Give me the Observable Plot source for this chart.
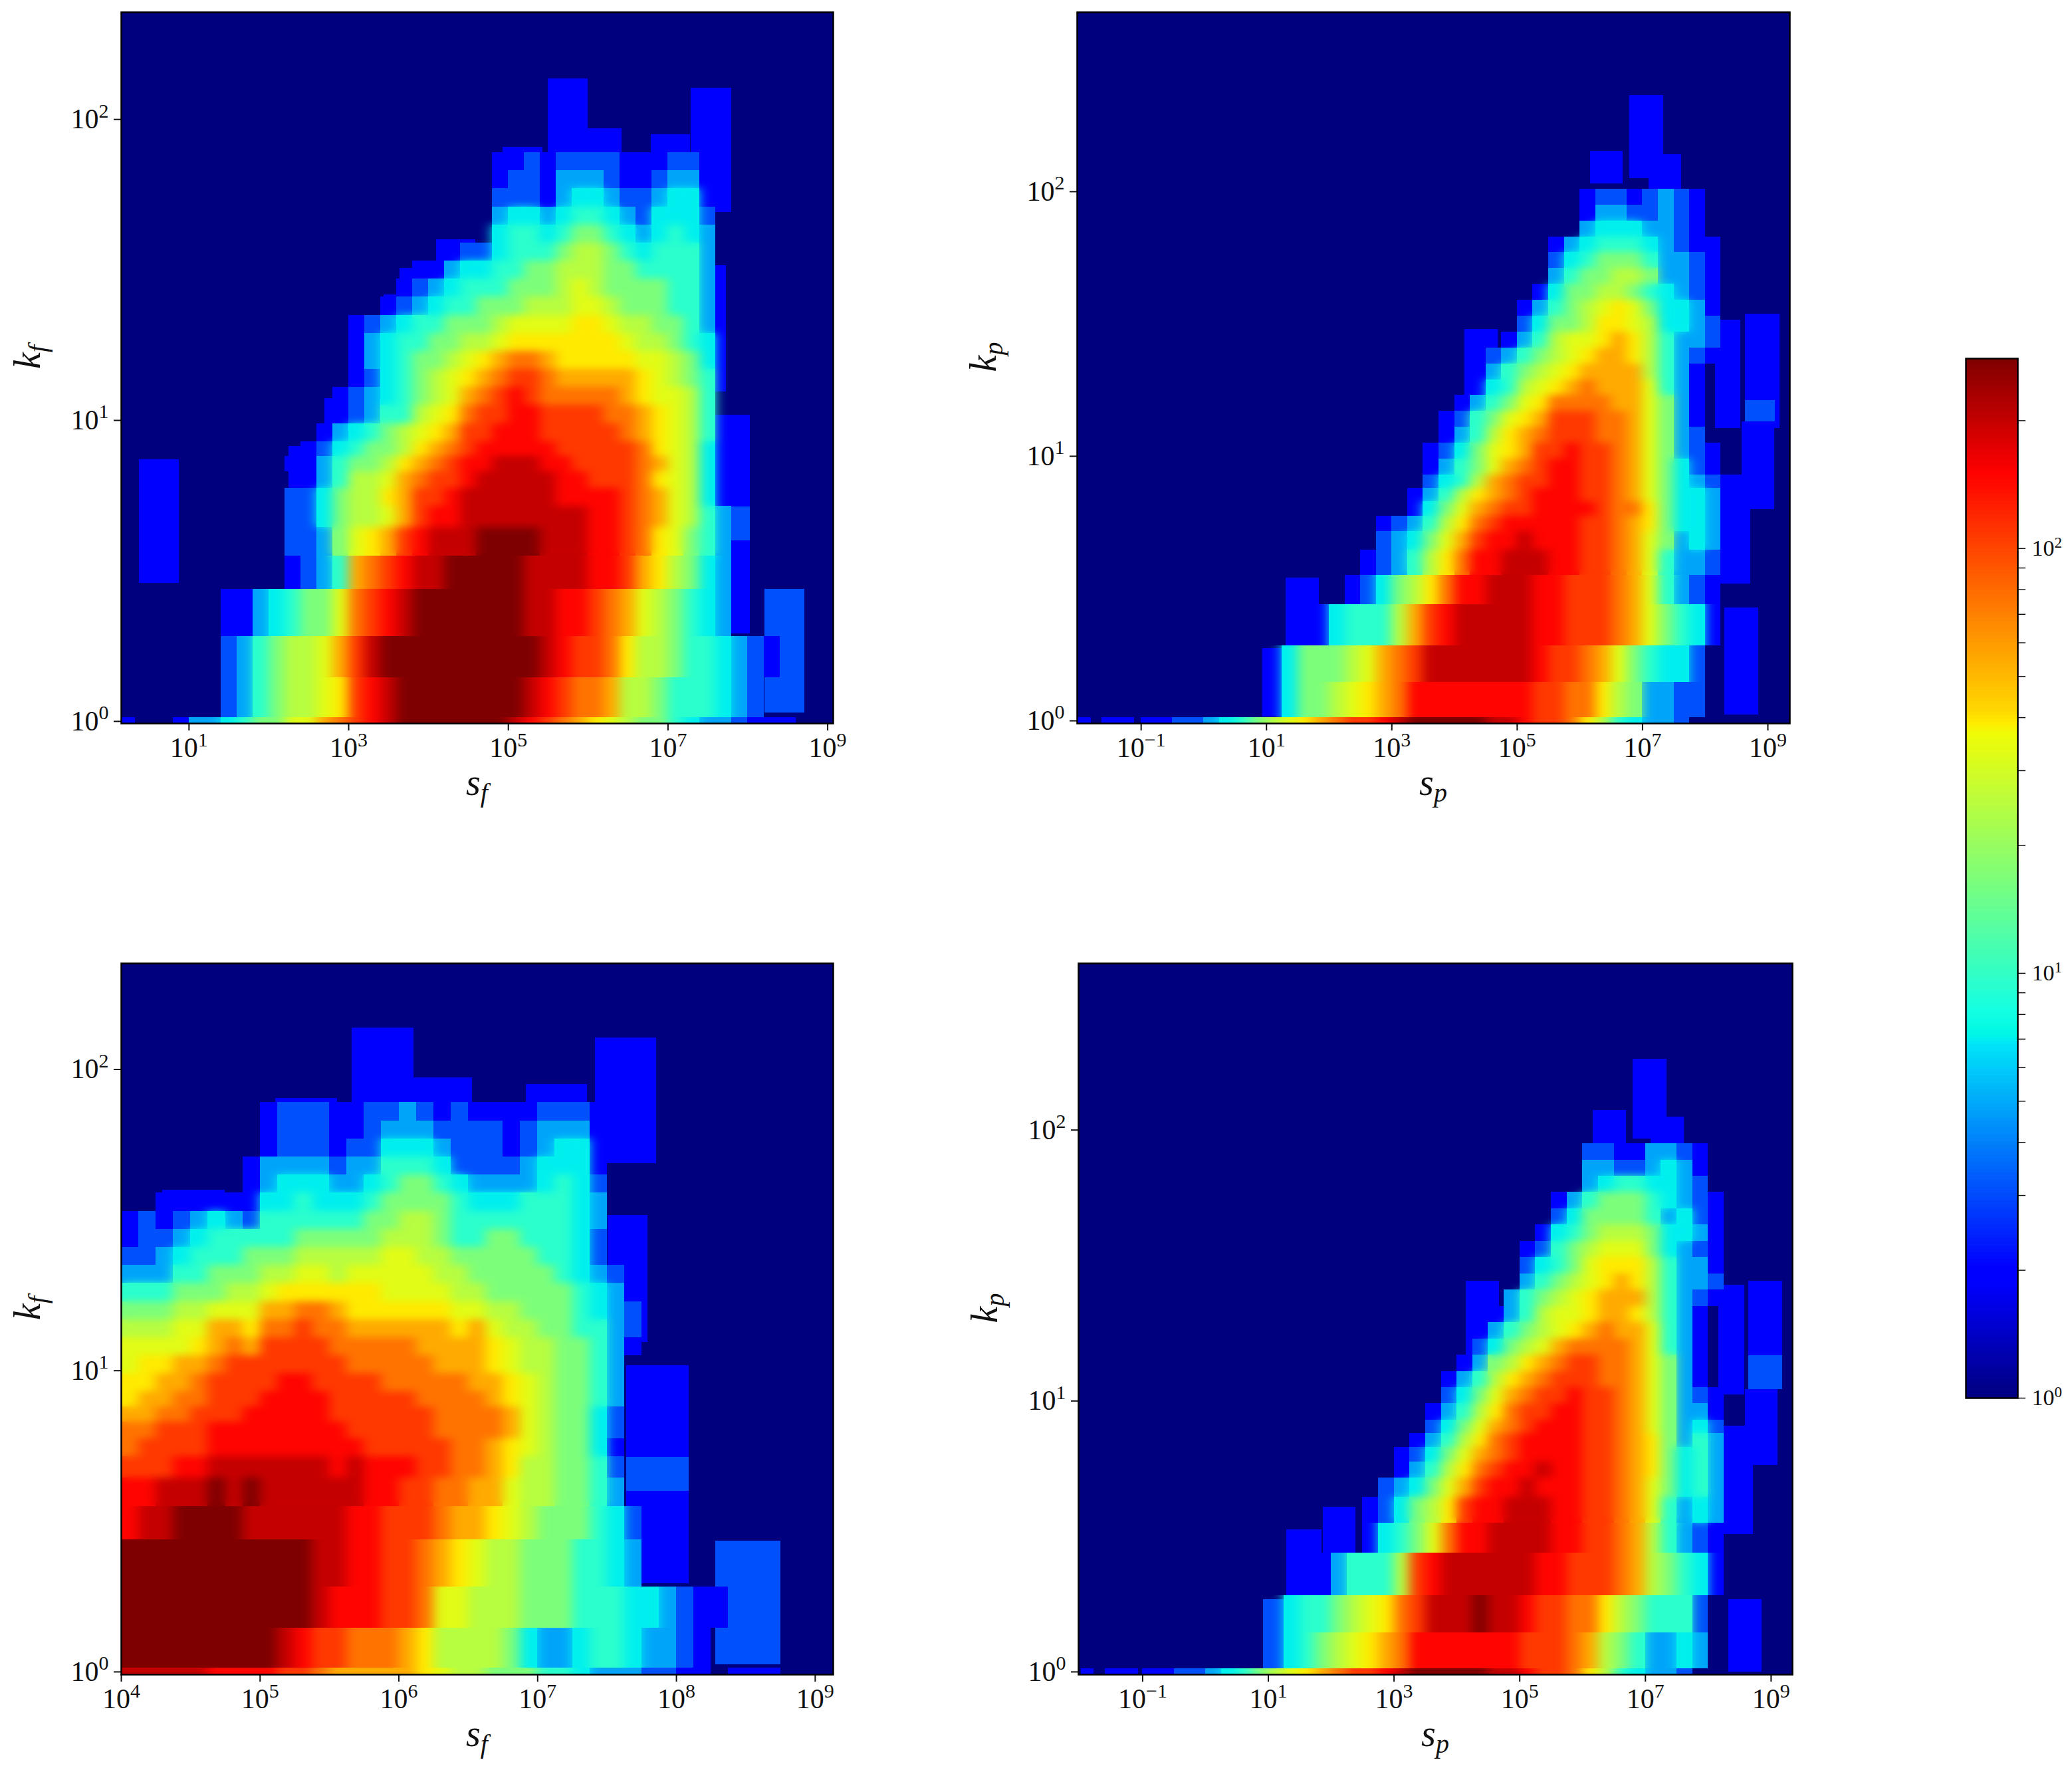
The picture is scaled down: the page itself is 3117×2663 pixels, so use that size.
<!DOCTYPE html>
<html>
<head>
<meta charset="utf-8">
<style>html,body{margin:0;padding:0;background:#fff;width:3117px;height:2663px;overflow:hidden}</style>
<script src="https://cdn.jsdelivr.net/npm/d3@7"></script>
<script src="https://cdn.jsdelivr.net/npm/@observablehq/plot@0.6"></script>
</head>
<body>
<div id="chart"></div>
<script>
// counts that each hex digit of a row stands for
const levelCounts = [0,2,3.1,4.85,7,9.5,16.7,24.8,33,39,54.6,76,107,147,200,280];
// k bin edges shared by all panels (bottom to top)
const kEdges = [0.977,1.03,1.396,1.919,2.754,3.548,4.416,5.188,5.957,6.761,7.586,8.511,9.772,11.22,12.88,14.79,16.98,19.5,22.39,25.7,29.51,33.88,38.9,44.67,51.29,58.88,67.6,77.6,89.1,102];

// rows, top to bottom: [first column, digits]
const rowsTL = [
[20,"1121222211122"],[20,"1221333211233"],[20,"2221344322344"],[20,"34434554324442"],[20,"45545665434543"],
[17,"12245556776545553"],[15,"1134455667776655553"],[14,"12345556667876666553"],[13,"123455666777887666553"],
[11,"12345566678888998776653"],[11,"13455667789999999877654"],[11,"134566789abba9999988764"],[11,"12456789abccbaaaaa98765"],
[10,"12345678abcdcbbbbba98875"],[10,"12355789bccddccccbba9875"],[9,"13456789accdddcccccba9875"],[8,"12456679abcdddddcccccb9874"],
[7,"11356679abcddeeeddccccba874"],[8,"135778abccdeeeeeddcccb9874"],[7,"2246779accdeeeeeeddddcba874"],[7,"2246778acddeeeeeeeeddcba8753"],
[7,"223689acdeeeffffeeeddcb98653"],[7,"1235abcdeefffffeeeeddca97643"],[3,"11345668bcdefffffffeeddcba876543"],
[3,"2356778aceffffffffffedccb9776554321"],[3,"23567789cdeffffffffedcbba776555432"],
[0,"133456688abcdefffffffedcba9876654332111"]];
const rowsTR = [
[28,"12212321"],[28,"13322321"],[28,"34443321"],[26,"13455543211"],[26,"24566653321"],[26,"35667763321"],[25,"146677654321"],
[24,"1356789864431"],[24,"2466799874432"],[23,"1357889a975332"],[21,"12356789aa975321"],[21,"1356789aaaa7531"],[21,"145789abaaa8531"],
[20,"135689bbbbaa8631"],[19,"125689acccbba8631"],[19,"13579abcccbba8632"],[18,"124689accdccba86321"],[18,"13568abcddccba86421"],
[18,"2457abccddccba86432"],[17,"13579abcdddccba86443"],[17,"1468abccddddcbb96443"],[15,"123579bcdddddccba96443"],[15,"23468acddedddccba86343"],
[14,"123579bddeeeddccba85332"],[13,"124679bddeeeddcccba85321"],[11,"145557acdeeeeeddcccba86541"],[9,"466678abceeeeeeedccba865442"],
[9,"466789abddddddddccbb9763322"],[0,"11223456789abccdefffffeedccb9754332"]];
const rowsBL = [
[8,"12221122321211112221"],[8,"12221123332222123331"],[8,"12221224443222123441"],[7,"133332335554222234441"],[7,"134443345665433334542"],
[2,"11111144544456666544455543"],[0,"1212343255555566776555555543"],[0,"1223455555666667776556655542"],[0,"2234555666777778877666665542"],
[0,"33355666778878888877666665432"],[0,"55566677899999988887766666543"],[0,"66677888aabba99999988776665432"],[0,"77788aa9bbcbbaaaaaa9a877665532"],
[0,"88889abaccccbbbbbaaaa987766531"],[0,"899aabcccccccbbbbbaaa98776653"],[0,"99aabccccddccccbbbbbaa9876653"],[0,"9aabbcccddddcccccbbbba9876653"],
[0,"aabbcccdddddccccccbbbba876642"],[0,"bbcccddddddddcccccbbbba876642"],[0,"bccccdddddddddcccccbba9876641"],[0,"cccddeeeeeeededddccbba9776652"],
[0,"ddeeefefeeeeeeddccbbaa8776653"],[0,"deeffffeeeeeeddcccbaa987666542"],[0,"fffffffffffeeddccba98776665543"],
[0,"fffffffffffedddccb88777666555443211"],[0,"fffffffffedccbbba97777643345543321"],
[0,"eeeeeddddccbaaaaa98776665543332211.111"]];
const rowsBR = [
[28,"22113321"],[28,"33223431"],[28,"34554432"],[26,"13566654321"],[26,"24666653421"],[25,"145677764431"],[24,"1256788864321"],
[24,"2456899975331"],[24,"356789a975332"],[23,"356789aaa75321"],[22,"1357889aa97531"],[22,"356789abaa8531"],[21,"24678abbbba8531"],
[20,"13679abccbba8631"],[19,"13579abcccbba8631"],[19,"2468abccdccba86321"],[18,"13579bccddccba86331"],[18,"2468abcdddccba86342"],
[17,"13579bcddddccba96353"],[16,"12468abcddddccba96453"],[16,"13579bcddeddccba96453"],[15,"23468acddedddccba86453"],
[14,"124679cddeeeddccba85343"],[14,"14568bddeeeeddccba75321"],[11,"135557cdeeeeeeddcccba76541"],[9,"4556789bceeefeedccbb9765552"],
[9,"456789abdddddddcccba7653343"],[0,"11223456789abccdefffffeedccb9754332"]];

// isolated low-count blocks: [log s from, log s to, log k from, log k to, digit]
const boxesTL = [[5.496,5.997,1.872,2.136,1],[5.936,6.424,1.869,1.97,1],[6.79,7.28,1.838,1.95,1],[7.29,7.8,1.691,2.105,1],[4.93,5.43,1.7,1.907,1],[4.83,5.5,1.7,1.877,1],[4.1,4.59,1.527,1.6,1],[3.645,4.1,1.414,1.506,1],[3.44,3.86,1.328,1.418,1],[3.05,3.46,1.078,1.333,1],[2.7,3.06,0.922,1.074,1],[2.25,2.7,0.775,0.914,1],[2.25,2.56,0.494,0.775,2],[2.25,2.56,0.442,0.494,1],[0.377,0.878,0.459,0.87,1],[7.41,7.73,1.095,1.515,1],[7.555,8.03,0.292,1.017,1],[7.555,8.03,0.6,0.712,2],[8.21,8.71,0.028,0.439,2],[0.16,0.33,-0.01,0.013,1]];
const boxesTR = [[6.796,7.332,2.049,2.363,1],[6.165,6.692,2.03,2.153,1],[7.1,7.62,1.931,2.141,1],[7.876,8.162,1.519,1.823,1],[8.162,8.568,1.106,1.515,1],[8.637,9.19,1.106,1.538,1],[8.637,9.12,1.13,1.21,2],[8.585,9.104,0.8,1.13,1],[8.205,8.724,0.517,0.929,1],[8.31,8.853,0.022,0.428,1],[4.16,4.696,1.185,1.479,1],[1.308,1.844,0.281,0.54,1],[0.936,1.264,0.016,0.275,1],[-2.02,-1.8,-0.01,0.013,1],[-1.63,-1.11,-0.01,0.013,1]];
const boxesBL = [[5.663,6.109,1.873,2.139,1],[6.084,6.53,1.87,1.972,1],[6.916,7.36,1.839,1.95,1],[7.414,7.856,1.688,2.104,1],[5.109,5.558,1.7,1.905,1],[5.004,5.66,1.7,1.877,1],[4.295,4.747,1.527,1.6,1],[4,4.32,1.414,1.506,1],[7.505,7.793,1.094,1.515,1],[7.642,8.09,0.293,1.016,1],[7.642,8.09,0.6,0.712,2],[8.284,8.751,0.023,0.435,2]];
const boxesBR = [[6.8,7.34,1.967,2.262,1],[6.17,6.7,1.948,2.073,1],[7.09,7.62,1.89,2.048,1],[7.88,8.17,1.428,1.746,1],[8.17,8.58,1.023,1.428,1],[8.637,9.18,1.168,1.443,1],[8.637,9.18,1.042,1.168,2],[8.59,9.11,0.763,1.042,1],[8.2,8.72,0.507,0.908,1],[8.32,8.85,0,0.266,1],[4.15,4.68,1.158,1.443,1],[1.29,1.846,0.272,0.526,1],[1.87,2.39,0.272,0.609,1],[0.92,1.266,0.012,0.266,2],[-1.98,-1.78,-0.01,0.013,1],[-1.6,-1.07,-0.01,0.013,1]];

const ticksTL = [1e1,1e3,1e5,1e7,1e9], ticksBL = [1e4,1e5,1e6,1e7,1e8,1e9], ticksR = [1e-1,1e1,1e3,1e5,1e7,1e9];
const kTicks = [1,10,100];
const barTicks = [1,2,3,4,5,6,7,8,9,10,20,30,40,50,60,70,80,90,100,200];

const jetPos = [0,0.11,0.125,0.34,0.35,0.375,0.64,0.65,0.66,0.89,0.91,1];
const jetCol = ["#00007f","#0000ff","#0000ff","#00e4f8","#00f8e6","#16ffe1","#f1fc06","#ffea00","#ffd900","#ff0000","#e80000","#7f0000"];
const jetScale = d3.scaleLinear().domain(jetPos).range(jetCol).interpolate(d3.interpolateRgb);
const jet = t => jetScale(t);
const colorOpt = {type:"log", domain:[1,280], interpolate:jet};

const FONT = "Liberation Serif";
const SUP = {"-":"⁻","0":"⁰","1":"¹","2":"²","3":"³","4":"⁴","5":"⁵","6":"⁶","7":"⁷","8":"⁸","9":"⁹"};
const UNSUP = Object.fromEntries(Object.entries(SUP).map(([a,b]) => [b, a === "-" ? "−" : a]));
const pow10 = d => "10" + String(Math.round(Math.log10(d))).split("").map(c => SUP[c]).join("");

const M = {l:140, r:70, t:8, b:130};
const SPLIT_ROW = 5; // rows below this are the wide integer-k bands

function cells(rows, s0, ds){
  const out = [];
  rows.slice().reverse().forEach(([first, digits], j) => {
    [...digits].forEach((ch, i) => {
      if (ch === ".") return;
      const c = first + i, lvl = parseInt(ch,16);
      out.push({x1:10**(s0+c*ds), x2:10**(s0+(c+1)*ds), y1:kEdges[j], y2:kEdges[j+1], c:levelCounts[lvl], lvl, j});
    });
  });
  return out;
}

const panels = [
 {rows:rowsTL, boxes:boxesTL, s0:0.8, ds:0.2,  x:[0.152,9.07], y:[-0.007,2.356], ticks:ticksTL, px:[182,18,1071,1070], xl:"s", yl:"k", sub:"f"},
 {rows:rowsTR, boxes:boxesTR, s0:-1,  ds:0.25, x:[-2.02,9.35], y:[-0.01,2.678],  ticks:ticksR,  px:[1620,18,1072,1070], xl:"s", yl:"k", sub:"p"},
 {rows:rowsBL, boxes:boxesBL, s0:4,   ds:0.125,x:[4,9.13],     y:[-0.009,2.352], ticks:ticksBL, px:[182,1449,1071,1070], xl:"s", yl:"k", sub:"f"},
 {rows:rowsBR, boxes:boxesBR, s0:-1,  ds:0.25, x:[-2.02,9.34], y:[-0.01,2.615],  ticks:ticksR,  px:[1622,1449,1074,1070], xl:"s", yl:"k", sub:"p"}
];

function label(svg, x, y, base, sub, rotate){
  const t = d3.select(svg).append("text")
    .attr("text-anchor","middle")
    .attr("font-family",FONT).attr("font-style","italic").attr("font-size",56).attr("fill","#111")
    .attr("transform",`translate(${x},${y})` + (rotate ? " rotate(-90)" : ""));
  t.append("tspan").text(base);
  t.append("tspan").attr("dy",10).attr("font-size",40).text(sub);
}

function superscripts(svg, size){
  d3.select(svg).selectAll('g[aria-label$="tick label"] text').each(function(){
    const s = this.textContent;
    if (!s) return;
    const base = s.slice(0,2), exp = [...s.slice(2)].map(c => UNSUP[c]).join("");
    this.textContent = "";
    const t = d3.select(this);
    t.append("tspan").text(base);
    t.append("tspan").attr("font-size",size).attr("dy",-size*0.55).text(exp);
  });
}

const root = document.getElementById("chart");
panels.forEach((p, n) => {
  const [px,py,pw,ph] = p.px;
  const boxes = p.boxes.map(([a,b,c,d,l]) => ({x1:10**a,x2:10**b,y1:10**c,y2:10**d,c:levelCounts[l]}));
  const all = cells(p.rows,p.s0,p.ds);
  const rectOpts = {x1:"x1",x2:"x2",y1:"y1",y2:"y2",fill:"c"};
  const svg = Plot.plot({
    width:pw+M.l+M.r, height:ph+M.t+M.b,
    marginLeft:M.l, marginRight:M.r, marginTop:M.t, marginBottom:M.b,
    style:{fontFamily:FONT, fontSize:"42px", color:"#111", background:"transparent", overflow:"visible"},
    x:{type:"log", domain:[10**p.x[0],10**p.x[1]]},
    y:{type:"log", domain:[10**p.y[0],10**p.y[1]]},
    color:colorOpt,
    marks:[
      Plot.frame({fill:"#00007f"}),
      Plot.rect(boxes,{...rectOpts,clip:true,shapeRendering:"crispEdges"}),
      Plot.rect(all,{...rectOpts,clip:true,shapeRendering:"crispEdges"}),
      Plot.rect(all.filter(d => d.lvl>=4 && d.j>=SPLIT_ROW),{...rectOpts,shapeRendering:"crispEdges"}),
      Plot.rect(all.filter(d => d.lvl>=4 && d.j<SPLIT_ROW),{...rectOpts,shapeRendering:"crispEdges"}),
      Plot.axisX({ticks:p.ticks, tickFormat:pow10, label:null, tickSize:11, tickPadding:10, strokeWidth:2}),
      Plot.axisY({ticks:kTicks, tickFormat:pow10, label:null, tickSize:11, tickPadding:8, strokeWidth:2}),
      Plot.frame({stroke:"#000", strokeWidth:2.5})
    ]
  });
  // rendering softness: the reference image is interpolated when drawn
  const sel = d3.select(svg);
  const defs = sel.insert("defs",":first-child");
  defs.append("clipPath").attr("id",`pc${n}`).append("rect").attr("x",M.l).attr("y",M.t).attr("width",pw).attr("height",ph);
  [["U","9 6"],["L","9 0"]].forEach(([k,std]) => {
    defs.append("filter").attr("id",`soft${k}${n}`).attr("filterUnits","userSpaceOnUse")
      .attr("x",0).attr("y",0).attr("width",pw+M.l+M.r).attr("height",ph+M.t+M.b)
      .attr("color-interpolation-filters","sRGB")
      .append("feGaussianBlur").attr("stdDeviation",std);
  });
  const rects = sel.selectAll('g[aria-label="rect"]').nodes();
  [[rects[2],"U"],[rects[3],"L"]].forEach(([g,k]) => {
    g.setAttribute("filter",`url(#soft${k}${n})`);
    const wrap = svg.ownerDocument.createElementNS("http://www.w3.org/2000/svg","g");
    wrap.setAttribute("clip-path",`url(#pc${n})`);
    g.parentNode.insertBefore(wrap,g);
    wrap.appendChild(g);
  });
  superscripts(svg, 30);
  svg.style.position = "absolute";
  svg.style.left = (px-M.l)+"px";
  svg.style.top = (py-M.t)+"px";
  label(svg, M.l+pw/2, M.t+ph+108, p.xl, p.sub, false);
  label(svg, M.l-122, M.t+ph/2-16, p.yl, p.sub, true);
  root.appendChild(svg);
});

// colour bar
const barSteps = d3.range(0,300).map(i => ({y1:280**(i/300), y2:280**((i+1)/300), c:280**((i+0.5)/300)}));
const bar = Plot.plot({
  width:78+90, height:1564+16, marginLeft:0, marginRight:90, marginTop:8, marginBottom:8,
  style:{fontFamily:FONT, fontSize:"34px", color:"#111", background:"transparent", overflow:"visible"},
  y:{type:"log", domain:[1,280]},
  color:colorOpt,
  marks:[
    Plot.rect(barSteps,{y1:"y1",y2:"y2",fill:"c",shapeRendering:"crispEdges"}),
    Plot.axisY({anchor:"right", ticks:barTicks, tickFormat:d => kTicks.includes(d) ? pow10(d) : "", label:null, tickSize:11, tickPadding:10, strokeWidth:1.5}),
    Plot.frame({stroke:"#000", strokeWidth:2.5})
  ]
});
superscripts(bar, 23);
bar.style.position = "absolute";
bar.style.left = "2957px";
bar.style.top = (539-8)+"px";
root.appendChild(bar);
</script>
</body>
</html>
